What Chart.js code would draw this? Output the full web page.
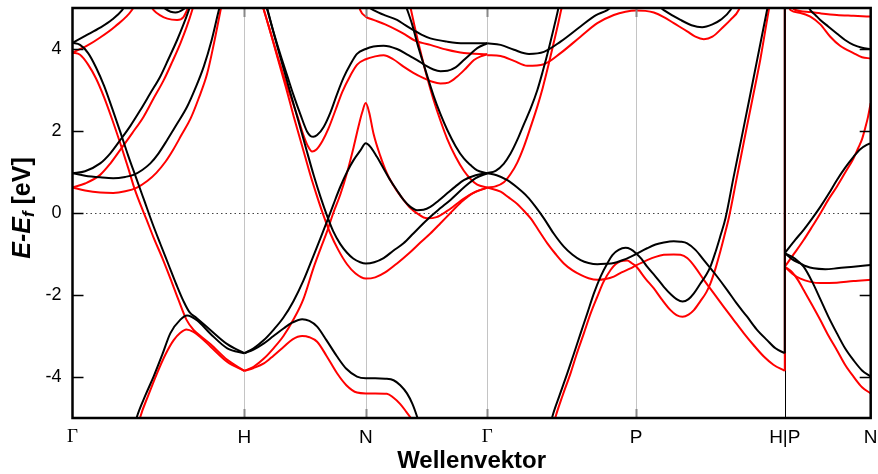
<!DOCTYPE html>
<html>
<head>
<meta charset="utf-8">
<title>Bandstruktur</title>
<script src="https://cdn.jsdelivr.net/npm/chart.js@4.4.1/dist/chart.umd.min.js"></script>
<style>
  html, body { margin: 0; padding: 0; background: #fff; }
  #wrap { width: 878px; height: 474px; }
</style>
</head>
<body>
<div id="wrap"><canvas id="bands" width="878" height="474"></canvas></div>
<script>
// ─── Achsen: Hochsymmetriepunkte und Energien ───
const kTicks  = [0, 1, 1.7071, 2.4142, 3.2802, 4.1463, 4.6463];
const kLabels = ['Γ', 'H', 'N', 'Γ', 'P', 'H|P', 'N'];
const eTicks  = [-4, -2, 0, 2, 4];

// ─── Bänder schwarz  [k, E-Ef] ───
const gh_b1 = [[0,4.15],[0.079,4.33],[0.161,4.52],[0.231,4.72],[0.289,4.95],[0.319,5.15]];
const gh_b2 = [[0,4.15],[0.044,4.1],[0.091,3.9],[0.137,3.55],[0.184,3.1],[0.231,2.55],[0.278,1.98],[0.324,1.4],[0.371,0.85],[0.418,0.3],[0.465,-0.25],[0.511,-0.75],[0.558,-1.25],[0.605,-1.75],[0.646,-2.15],[0.681,-2.42],[0.722,-2.56],[0.804,-2.86],[0.901,-3.2],[1,-3.42]];
const gh_b3 = [[0.354,-5.3],[0.375,-4.97],[0.424,-4.45],[0.472,-3.99],[0.523,-3.45],[0.570,-2.93],[0.628,-2.6],[0.667,-2.5],[0.726,-2.62],[0.804,-2.95],[0.901,-3.3],[1,-3.42]];
const gh_b4 = [[0,0.97],[0.073,1.02],[0.161,1.21],[0.219,1.45],[0.278,1.78],[0.336,2.12],[0.395,2.51],[0.453,2.92],[0.511,3.33],[0.558,3.75],[0.609,4.22],[0.646,4.6],[0.677,4.95],[0.693,5.15]];
const gh_b5 = [[0,0.97],[0.073,0.91],[0.161,0.87],[0.237,0.85],[0.307,0.88],[0.355,0.93],[0.406,1.05],[0.453,1.21],[0.500,1.45],[0.551,1.78],[0.605,2.15],[0.667,2.59],[0.716,3.05],[0.764,3.57],[0.809,4.2],[0.852,4.95],[0.865,5.15]];
const gh_b6 = [[0.500,5.15],[0.541,4.98],[0.599,4.89],[0.646,4.97],[0.687,5.15]];

const hn_b1 = [[1,-3.42],[1.054,-3.33],[1.114,-3.18],[1.170,-3.0],[1.230,-2.81],[1.281,-2.67],[1.337,-2.59],[1.379,-2.63],[1.424,-2.77],[1.478,-3.1],[1.540,-3.5],[1.594,-3.8],[1.656,-3.99],[1.707,-4.03],[1.762,-4.03],[1.820,-4.04],[1.869,-4.08],[1.908,-4.2],[1.947,-4.4],[1.978,-4.65],[2.006,-4.97],[2.019,-5.15]];
const hn_b2 = [[1,-3.42],[1.054,-3.3],[1.114,-3.1],[1.170,-2.85],[1.228,-2.55],[1.286,-2.15],[1.344,-1.65],[1.402,-1.05],[1.443,-0.62],[1.482,-0.2],[1.518,0.2],[1.559,0.64],[1.598,1.0],[1.636,1.29],[1.675,1.52],[1.707,1.7],[1.733,1.62],[1.772,1.37],[1.809,1.1],[1.850,0.8],[1.889,0.55],[1.927,0.32],[1.967,0.15],[2.006,0.07],[2.043,0.08],[2.083,0.15],[2.130,0.3],[2.181,0.48],[2.230,0.65],[2.278,0.8],[2.347,0.92],[2.414,0.97]];
const hn_b3 = [[1.118,5.15],[1.134,4.95],[1.170,4.4],[1.211,3.78],[1.257,3.1],[1.308,2.35],[1.356,1.63],[1.404,0.92],[1.443,0.4],[1.482,-0.07],[1.518,-0.45],[1.559,-0.76],[1.598,-0.97],[1.634,-1.11],[1.675,-1.2],[1.707,-1.23],[1.756,-1.2],[1.811,-1.1],[1.867,-0.92],[1.927,-0.74],[1.984,-0.5],[2.043,-0.25],[2.083,-0.09],[2.142,0.12],[2.200,0.32],[2.278,0.62],[2.347,0.85],[2.414,0.97]];
const hn_b4 = [[1.124,5.15],[1.136,4.95],[1.170,4.42],[1.211,3.85],[1.252,3.32],[1.286,2.88],[1.327,2.4],[1.366,1.98],[1.385,1.88],[1.402,1.86],[1.424,1.9],[1.462,2.1],[1.501,2.45],[1.540,2.9],[1.578,3.3],[1.617,3.62],[1.656,3.88],[1.707,4.0],[1.752,4.06],[1.811,4.08],[1.889,4.0],[1.955,3.85],[2.006,3.73],[2.054,3.6],[2.101,3.5],[2.142,3.46],[2.183,3.47],[2.230,3.55],[2.278,3.73],[2.317,3.88],[2.356,4.02],[2.414,4.14]];
const ng_b5 = [[1.675,5.15],[1.752,4.95],[1.820,4.82],[1.889,4.71],[1.937,4.58],[1.986,4.46],[2.031,4.35],[2.083,4.26],[2.181,4.18],[2.278,4.14],[2.414,4.14]];
const ng_b6 = [[1.931,5.15],[1.949,4.95],[1.977,4.6],[2.006,4.15],[2.054,3.49],[2.101,2.87],[2.142,2.41],[2.181,2.03],[2.230,1.63],[2.278,1.33],[2.317,1.17],[2.356,1.04],[2.414,0.97]];

const gp_b1 = [[2.414,0.97],[2.463,1.03],[2.510,1.2],[2.550,1.45],[2.591,1.8],[2.626,2.15],[2.667,2.55],[2.706,3.0],[2.737,3.45],[2.773,4.02],[2.801,4.5],[2.826,4.95],[2.835,5.15]];
const gp_b2 = [[2.414,4.14],[2.492,4.1],[2.570,3.98],[2.657,3.88],[2.744,3.93],[2.841,4.18],[2.957,4.55],[3.045,4.82],[3.113,4.95],[3.161,5.1],[3.280,5.3],[3.394,5.1],[3.442,4.95],[3.539,4.71],[3.603,4.58],[3.665,4.53],[3.725,4.6],[3.772,4.71],[3.830,4.95],[3.847,5.1]];
const gp_b3 = [[2.414,0.97],[2.469,0.92],[2.531,0.8],[2.589,0.62],[2.647,0.4],[2.696,0.15],[2.744,-0.13],[2.801,-0.5],[2.860,-0.82],[2.911,-1.02],[2.958,-1.15],[3.004,-1.22],[3.055,-1.25],[3.103,-1.24],[3.151,-1.22],[3.196,-1.16],[3.248,-1.07],[3.280,-1.0],[3.345,-0.86],[3.394,-0.77],[3.442,-0.72],[3.500,-0.69],[3.539,-0.7],[3.578,-0.74],[3.626,-0.9],[3.675,-1.15],[3.743,-1.5],[3.811,-1.88],[3.865,-2.2],[3.927,-2.53],[3.981,-2.83],[4.043,-3.1],[4.092,-3.3],[4.146,-3.42]];
const gp_b4 = [[2.783,-5.15],[2.793,-4.97],[2.835,-4.45],[2.880,-3.91],[2.917,-3.45],[2.958,-2.93],[2.998,-2.43],[3.035,-1.96],[3.074,-1.55],[3.113,-1.23],[3.144,-1.02],[3.179,-0.9],[3.219,-0.85],[3.248,-0.88],[3.280,-0.98],[3.312,-1.12],[3.345,-1.31],[3.394,-1.55],[3.442,-1.8],[3.487,-2.0],[3.516,-2.1],[3.551,-2.16],[3.586,-2.1],[3.617,-1.96],[3.655,-1.72],[3.690,-1.5],[3.714,-1.3],[3.743,-0.95],[3.772,-0.55],[3.801,-0.13],[3.847,0.85],[3.894,1.82],[3.941,2.8],[3.987,3.77],[4.043,4.95],[4.054,5.17]];

const pn_b1 = [[4.146,-0.98],[4.208,-0.65],[4.256,-0.41],[4.306,-0.13],[4.353,0.15],[4.399,0.45],[4.449,0.8],[4.497,1.1],[4.546,1.37],[4.584,1.55],[4.623,1.66],[4.646,1.7]];
const pn_b2 = [[4.146,-0.98],[4.190,-1.13],[4.237,-1.23],[4.271,-1.3],[4.314,-1.35],[4.382,-1.37],[4.449,-1.35],[4.546,-1.31],[4.646,-1.27]];
const pn_b3 = [[4.146,-0.98],[4.190,-1.07],[4.225,-1.18],[4.256,-1.31],[4.306,-1.68],[4.353,-2.1],[4.399,-2.52],[4.449,-2.93],[4.497,-3.3],[4.546,-3.59],[4.596,-3.84],[4.646,-3.99]];
const pn_b4 = [[4.266,5.15],[4.295,4.95],[4.324,4.83],[4.353,4.71],[4.399,4.55],[4.449,4.38],[4.497,4.22],[4.546,4.1],[4.596,4.03],[4.646,4.0]];

// Sprung am Punkt H|P
const hp_b = [[4.1463,-3.42],[4.1463,5.3]];

// ─── Bänder rot  [k, E-Ef] ───
const gh_r1 = [[0,3.91],[0.085,4.08],[0.161,4.28],[0.248,4.55],[0.346,4.95],[0.371,5.15]];
const gh_r2 = [[0,3.91],[0.044,3.86],[0.091,3.62],[0.137,3.28],[0.184,2.82],[0.231,2.28],[0.278,1.7],[0.324,1.1],[0.359,0.62],[0.385,0.32],[0.430,-0.15],[0.472,-0.6],[0.523,-1.1],[0.570,-1.6],[0.617,-2.12],[0.663,-2.6],[0.706,-2.86],[0.745,-3.0],[0.804,-3.2],[0.901,-3.58],[1,-3.85]];
const gh_r3 = [[0.377,-5.3],[0.395,-4.97],[0.441,-4.45],[0.492,-3.91],[0.541,-3.45],[0.589,-3.1],[0.628,-2.92],[0.663,-2.84],[0.704,-2.9],[0.745,-3.03],[0.804,-3.26],[0.901,-3.63],[1,-3.85]];
const gh_r4 = [[0,0.62],[0.073,0.72],[0.161,0.93],[0.219,1.2],[0.278,1.54],[0.348,1.95],[0.414,2.35],[0.470,2.78],[0.531,3.24],[0.582,3.7],[0.628,4.14],[0.663,4.52],[0.697,4.95],[0.710,5.15]];
const gh_r5 = [[0,0.62],[0.073,0.55],[0.161,0.5],[0.237,0.49],[0.307,0.53],[0.375,0.62],[0.435,0.78],[0.488,0.98],[0.541,1.25],[0.587,1.55],[0.634,1.9],[0.687,2.3],[0.733,2.78],[0.784,3.4],[0.824,4.15],[0.862,4.95],[0.871,5.15]];
const gh_r6 = [[0.441,5.15],[0.472,4.95],[0.511,4.82],[0.552,4.74],[0.609,4.71],[0.646,4.78],[0.667,4.95],[0.687,5.15]];

const hn_r1 = [[1,-3.85],[1.054,-3.78],[1.114,-3.67],[1.170,-3.48],[1.230,-3.26],[1.281,-3.08],[1.337,-3.0],[1.379,-3.03],[1.424,-3.14],[1.478,-3.48],[1.540,-3.91],[1.594,-4.2],[1.656,-4.38],[1.707,-4.4],[1.762,-4.4],[1.830,-4.41],[1.867,-4.5],[1.908,-4.66],[1.943,-4.85],[1.977,-5.05],[1.990,-5.15]];
const hn_r2 = [[1,-3.85],[1.054,-3.75],[1.114,-3.55],[1.170,-3.3],[1.228,-3.0],[1.286,-2.6],[1.344,-2.1],[1.402,-1.35],[1.443,-0.88],[1.482,-0.45],[1.518,0.0],[1.559,0.45],[1.598,0.98],[1.636,1.6],[1.663,2.08],[1.686,2.45],[1.707,2.68],[1.727,2.45],[1.752,1.94],[1.791,1.4],[1.830,0.97],[1.879,0.6],[1.927,0.32],[1.967,0.12],[2.006,-0.01],[2.064,-0.13],[2.119,-0.1],[2.181,0.05],[2.230,0.2],[2.278,0.35],[2.347,0.52],[2.414,0.62]];
const hn_r3 = [[1.098,5.15],[1.114,4.95],[1.153,4.4],[1.194,3.78],[1.240,3.1],[1.288,2.35],[1.337,1.63],[1.385,0.92],[1.424,0.4],[1.462,-0.07],[1.501,-0.5],[1.547,-0.9],[1.598,-1.25],[1.646,-1.47],[1.707,-1.6],[1.762,-1.57],[1.820,-1.45],[1.889,-1.23],[1.967,-0.95],[2.025,-0.72],[2.083,-0.5],[2.142,-0.25],[2.200,0.0],[2.259,0.25],[2.317,0.45],[2.414,0.62]];
const hn_r4 = [[1.101,5.15],[1.114,4.95],[1.153,4.4],[1.194,3.82],[1.234,3.28],[1.269,2.85],[1.310,2.35],[1.344,1.9],[1.368,1.65],[1.395,1.5],[1.420,1.55],[1.454,1.75],[1.489,2.05],[1.530,2.5],[1.570,2.95],[1.617,3.35],[1.657,3.62],[1.707,3.75],[1.762,3.82],[1.811,3.85],[1.867,3.75],[1.927,3.57],[1.984,3.42],[2.044,3.29],[2.095,3.2],[2.142,3.16],[2.189,3.18],[2.240,3.33],[2.288,3.52],[2.337,3.73],[2.376,3.82],[2.414,3.87]];
const ng_r5 = [[1.663,5.15],[1.675,4.95],[1.707,4.79],[1.752,4.71],[1.820,4.6],[1.889,4.46],[1.937,4.35],[1.986,4.22],[2.035,4.15],[2.083,4.1],[2.181,3.98],[2.278,3.9],[2.414,3.87]];
const ng_r6 = [[1.960,5.15],[1.967,5.02],[2.006,4.28],[2.031,3.85],[2.064,3.31],[2.101,2.77],[2.142,2.25],[2.181,1.81],[2.230,1.37],[2.278,1.03],[2.317,0.83],[2.356,0.69],[2.414,0.62]];

const gp_r1 = [[2.414,0.62],[2.463,0.65],[2.511,0.75],[2.550,0.95],[2.589,1.23],[2.626,1.6],[2.667,2.1],[2.706,2.6],[2.737,3.05],[2.773,3.65],[2.801,4.15],[2.826,4.6],[2.847,5.0],[2.856,5.15]];
const gp_r2 = [[2.414,3.85],[2.492,3.83],[2.570,3.71],[2.647,3.59],[2.744,3.63],[2.841,3.9],[2.957,4.3],[3.055,4.63],[3.151,4.83],[3.219,4.91],[3.280,4.94],[3.335,4.93],[3.384,4.89],[3.442,4.78],[3.500,4.63],[3.578,4.43],[3.626,4.3],[3.675,4.24],[3.725,4.3],[3.791,4.55],[3.830,4.71],[3.878,4.95],[3.894,5.15]];
const gp_r3 = [[2.414,0.62],[2.492,0.52],[2.539,0.38],[2.589,0.22],[2.626,0.06],[2.667,-0.13],[2.713,-0.42],[2.764,-0.74],[2.812,-1.0],[2.860,-1.23],[2.911,-1.4],[2.958,-1.51],[3.004,-1.59],[3.055,-1.63],[3.103,-1.61],[3.151,-1.55],[3.196,-1.45],[3.248,-1.35],[3.280,-1.28],[3.345,-1.15],[3.394,-1.07],[3.442,-1.02],[3.500,-1.01],[3.539,-1.02],[3.578,-1.1],[3.626,-1.33],[3.675,-1.63],[3.731,-1.95],[3.791,-2.29],[3.847,-2.6],[3.907,-2.93],[3.964,-3.22],[4.024,-3.5],[4.080,-3.7],[4.146,-3.85]];
const gp_r4 = [[2.801,-5.15],[2.812,-4.97],[2.853,-4.45],[2.899,-3.91],[2.934,-3.45],[2.977,-2.93],[3.016,-2.45],[3.055,-2.04],[3.091,-1.68],[3.132,-1.39],[3.161,-1.25],[3.190,-1.18],[3.229,-1.16],[3.254,-1.22],[3.280,-1.3],[3.335,-1.6],[3.384,-1.84],[3.429,-2.1],[3.481,-2.37],[3.516,-2.49],[3.551,-2.53],[3.586,-2.48],[3.617,-2.37],[3.655,-2.15],[3.690,-1.93],[3.714,-1.71],[3.743,-1.35],[3.772,-0.92],[3.795,-0.55],[3.820,-0.13],[3.865,0.82],[3.911,1.8],[3.958,2.78],[4.004,3.75],[4.053,4.95],[4.063,5.17]];

const pn_r1 = [[4.146,-1.31],[4.208,-0.95],[4.256,-0.66],[4.306,-0.33],[4.353,-0.01],[4.399,0.32],[4.449,0.64],[4.497,0.98],[4.546,1.33],[4.573,1.58],[4.596,1.8],[4.613,2.05],[4.631,2.35],[4.646,2.68]];
const pn_r2 = [[4.146,-1.31],[4.190,-1.48],[4.237,-1.6],[4.295,-1.68],[4.353,-1.71],[4.449,-1.7],[4.546,-1.66],[4.646,-1.63]];
const pn_r3 = [[4.146,-1.31],[4.190,-1.45],[4.225,-1.65],[4.256,-1.88],[4.306,-2.25],[4.353,-2.61],[4.399,-2.98],[4.449,-3.34],[4.497,-3.7],[4.546,-3.99],[4.596,-4.25],[4.646,-4.4]];
const pn_r4 = [[4.161,5.15],[4.179,4.95],[4.237,4.88],[4.295,4.79],[4.353,4.6],[4.411,4.3],[4.468,4.08],[4.546,3.9],[4.596,3.8],[4.646,3.77]];
const pn_r5 = [[4.167,5.1],[4.208,4.95],[4.295,4.9],[4.353,4.87],[4.449,4.83],[4.546,4.81],[4.646,4.79]];

const hp_r = [[4.1463,-3.85],[4.1463,5.3]];

const blackBands = [gh_b1, gh_b2, gh_b3, gh_b4, gh_b5, gh_b6, hn_b1, hn_b2, hn_b3, hn_b4, ng_b5, ng_b6,
                    gp_b1, gp_b2, gp_b3, gp_b4, pn_b1, pn_b2, pn_b3, pn_b4];
const redBands   = [gh_r1, gh_r2, gh_r3, gh_r4, gh_r5, gh_r6, hn_r1, hn_r2, hn_r3, hn_r4, ng_r5, ng_r6,
                    gp_r1, gp_r2, gp_r3, gp_r4, pn_r1, pn_r2, pn_r3, pn_r4, pn_r5];

// ─── Schriften ───
const SANS  = "'Liberation Sans', Arial, sans-serif";
const SERIF = "'Liberation Serif', 'Times New Roman', serif";

function bandSet(pts, color, order, smooth = true) {
  return {
    data: pts.map(([x, y]) => ({ x, y })),
    borderColor: color,
    borderWidth: 2,
    borderJoinStyle: 'round',
    pointRadius: 0,
    showLine: true,
    fill: false,
    tension: 0,
    cubicInterpolationMode: smooth ? 'monotone' : 'default',
    clip: 0,
    order,
  };
}

const datasets = [
  ...blackBands.map(b => bandSet(b, '#000000', 0)),
  bandSet(hp_b, '#000000', 0, false),
  ...redBands.map(b => bandSet(b, '#ff0000', 1)),
  bandSet(hp_r, '#ff0000', 1, false),
];

// ─── Rahmen, Gitter, Titel ───
const framePlugin = {
  id: 'frame',
  beforeDatasetsDraw(chart) {
    const { ctx, chartArea: a, scales: { x, y } } = chart;
    ctx.save();
    ctx.lineWidth = 1;
    kTicks.slice(1, -1).forEach((k, i) => {
      const px = Math.round(x.getPixelForValue(k)) + 0.5;
      ctx.strokeStyle = kLabels[i + 1] === 'H|P' ? '#000' : '#c4c4c4';
      ctx.beginPath(); ctx.moveTo(px, a.top); ctx.lineTo(px, a.bottom); ctx.stroke();
    });
    const y0 = Math.round(y.getPixelForValue(0)) + 0.5;
    ctx.strokeStyle = '#444';
    ctx.setLineDash([1.5, 3]);
    ctx.beginPath(); ctx.moveTo(a.left, y0); ctx.lineTo(a.right, y0); ctx.stroke();
    ctx.restore();
  },
  afterDatasetsDraw(chart) {
    const { ctx, chartArea: a, scales: { x, y } } = chart;
    ctx.save();
    // kleine Striche oben/unten
    ctx.strokeStyle = '#888';
    ctx.lineWidth = 2;
    kTicks.slice(1, -1).forEach((k, i) => {
      if (kLabels[i + 1] === 'H|P') return;
      const px = Math.round(x.getPixelForValue(k)) + 0.5;
      ctx.beginPath();
      ctx.moveTo(px, a.top); ctx.lineTo(px, a.top + 9);
      ctx.moveTo(px, a.bottom); ctx.lineTo(px, a.bottom - 9);
      ctx.stroke();
    });
    // Striche links/rechts
    ctx.strokeStyle = '#000';
    ctx.lineWidth = 1.5;
    eTicks.forEach(e => {
      const py = Math.round(y.getPixelForValue(e)) + 0.5;
      ctx.beginPath();
      ctx.moveTo(a.left, py); ctx.lineTo(a.left + 11, py);
      ctx.moveTo(a.right, py); ctx.lineTo(a.right - 11, py);
      ctx.stroke();
    });
    // Rahmen
    ctx.lineWidth = 2.5;
    ctx.strokeRect(a.left, a.top, a.right - a.left, a.bottom - a.top);
    ctx.restore();
  },
  afterDraw(chart) {
    const { ctx, chartArea: a } = chart;
    ctx.save();
    ctx.fillStyle = '#000';
    ctx.textBaseline = 'middle';
    // x-Titel
    ctx.textAlign = 'center';
    ctx.font = `bold 24px ${SANS}`;
    ctx.fillText('Wellenvektor', (a.left + a.right) / 2, 461);
    // y-Titel mit Index f
    ctx.textAlign = 'left';
    ctx.translate(23, 208);
    ctx.rotate(-Math.PI / 2);
    const parts = [
      { t: 'E-E',   f: `italic bold 25px ${SANS}`, dy: 0 },
      { t: 'f',     f: `italic bold 17px ${SANS}`, dy: 6 },
      { t: ' [eV]', f: `bold 25px ${SANS}`,        dy: 0 },
    ];
    let w = 0;
    parts.forEach(p => { ctx.font = p.f; p.w = ctx.measureText(p.t).width; w += p.w; });
    let cx = -w / 2;
    parts.forEach(p => { ctx.font = p.f; ctx.fillText(p.t, cx, p.dy); cx += p.w; });
    ctx.restore();
  }
};

new Chart(document.getElementById('bands'), {
  type: 'scatter',
  data: { datasets },
  options: {
    responsive: false,
    devicePixelRatio: 1,
    animation: false,
    events: [],
    layout: { padding: { left: 0, right: 7.3, top: 8, bottom: 0 } },
    plugins: { legend: { display: false }, tooltip: { enabled: false } },
    scales: {
      x: {
        type: 'linear',
        min: 0,
        max: 4.6463,
        grid: { display: false, drawTicks: false },
        border: { display: false },
        afterBuildTicks: (s) => { s.ticks = kTicks.map(v => ({ value: v })); },
        afterFit: (s) => { s.height = 56; s.paddingLeft = 0; s.paddingRight = 0; },
        ticks: {
          autoSkip: false,
          maxRotation: 0,
          minRotation: 0,
          padding: 8,
          color: '#000',
          font: (c) => ({ family: kLabels[c.index] === 'Γ' ? SERIF : SANS, size: 19 }),
          callback: (v, i) => kLabels[i],
        },
      },
      y: {
        min: -5,
        max: 5,
        grid: { display: false, drawTicks: false },
        border: { display: false },
        afterBuildTicks: (s) => { s.ticks = eTicks.map(v => ({ value: v })); },
        afterFit: (s) => { s.width = 72.5; s.paddingTop = 0; s.paddingBottom = 0; },
        ticks: {
          padding: 11,
          color: '#000',
          font: { family: SANS, size: 18 },
          callback: (v) => String(v),
        },
      },
    },
  },
  plugins: [framePlugin],
});
</script>
</body>
</html>
